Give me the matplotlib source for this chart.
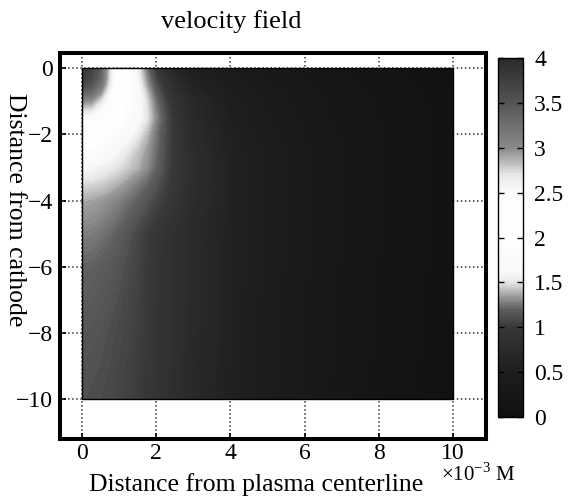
import matplotlib
matplotlib.use("Agg")
import matplotlib.pyplot as plt
import numpy as np
from matplotlib.colors import LinearSegmentedColormap, Normalize
from matplotlib.cm import ScalarMappable
from matplotlib.patches import Rectangle

plt.rcParams["font.family"] = ["Liberation Serif", "DejaVu Serif"]
plt.rcParams["mathtext.fontset"] = "custom"
plt.rcParams["mathtext.rm"] = "Liberation Serif"
plt.rcParams["axes.unicode_minus"] = True

# ── data: speed on a coarse grid (units of colorbar) ───
x_nodes = [0, 0.25, 0.5, 0.75, 1.0, 1.25, 1.5, 1.75, 2.0, 2.5, 3, 4, 5, 6, 8, 10]
y_nodes = [0, -0.25, -0.5, -0.75, -1.0, -1.5, -2, -2.5, -3, -3.5, -4, -5, -6, -8, -10]
speed = [
    [3.85, 3.70, 3.40, 2.70, 2.20, 1.85, 1.55, 1.25, 1.00, 0.65, 0.50, 0.40, 0.32, 0.25, 0.14, 0.05],
    [3.80, 3.65, 3.35, 2.70, 2.20, 1.88, 1.58, 1.30, 1.05, 0.70, 0.55, 0.42, 0.33, 0.26, 0.14, 0.05],
    [3.65, 3.50, 3.20, 2.65, 2.20, 1.90, 1.62, 1.35, 1.12, 0.78, 0.60, 0.45, 0.35, 0.28, 0.16, 0.06],
    [3.35, 3.25, 2.95, 2.50, 2.15, 1.90, 1.66, 1.42, 1.18, 0.85, 0.65, 0.48, 0.37, 0.30, 0.17, 0.07],
    [3.00, 2.95, 2.70, 2.40, 2.10, 1.88, 1.68, 1.47, 1.24, 0.90, 0.70, 0.50, 0.39, 0.31, 0.18, 0.07],
    [2.50, 2.45, 2.30, 2.15, 2.00, 1.82, 1.66, 1.50, 1.30, 0.95, 0.72, 0.52, 0.41, 0.32, 0.19, 0.08],
    [2.20, 2.15, 2.05, 1.92, 1.78, 1.65, 1.52, 1.40, 1.25, 0.97, 0.75, 0.55, 0.43, 0.34, 0.20, 0.08],
    [1.90, 1.86, 1.78, 1.68, 1.58, 1.50, 1.42, 1.34, 1.23, 0.98, 0.77, 0.57, 0.45, 0.35, 0.20, 0.08],
    [1.62, 1.60, 1.56, 1.52, 1.48, 1.43, 1.38, 1.31, 1.20, 0.98, 0.78, 0.58, 0.46, 0.36, 0.20, 0.08],
    [1.47, 1.46, 1.44, 1.41, 1.37, 1.32, 1.27, 1.21, 1.14, 0.96, 0.78, 0.58, 0.46, 0.36, 0.20, 0.08],
    [1.37, 1.36, 1.34, 1.31, 1.28, 1.24, 1.19, 1.14, 1.08, 0.94, 0.77, 0.58, 0.46, 0.36, 0.20, 0.08],
    [1.28, 1.27, 1.25, 1.22, 1.18, 1.13, 1.08, 1.02, 0.95, 0.85, 0.74, 0.58, 0.46, 0.36, 0.20, 0.08],
    [1.21, 1.20, 1.18, 1.16, 1.13, 1.10, 1.06, 1.01, 0.94, 0.84, 0.73, 0.57, 0.45, 0.35, 0.19, 0.07],
    [1.15, 1.14, 1.13, 1.11, 1.09, 1.07, 1.04, 1.00, 0.93, 0.83, 0.72, 0.56, 0.44, 0.34, 0.18, 0.06],
    [1.12, 1.11, 1.10, 1.09, 1.07, 1.05, 1.02, 0.98, 0.92, 0.82, 0.71, 0.55, 0.43, 0.33, 0.17, 0.05],
]
cbar_ticks = [0, 0.5, 1, 1.5, 2, 2.5, 3, 3.5, 4]
x_ticks = [0, 2, 4, 6, 8, 10]
y_ticks = [0, -2, -4, -6, -8, -10]

# grey map that is dark at both ends and white in the middle
cmap = LinearSegmentedColormap.from_list("vel", [
    (0.0, "#101010"), (0.125, "#1e1e1e"), (0.25, "#383838"), (0.3, "#606060"),
    (0.3375, "#a0a0a0"), (0.375, "#e8e8e8"), (0.4, "#f8f8f8"), (0.5, "#ffffff"),
    (0.625, "#fcfcfc"), (0.675, "#e8e8e8"), (0.7125, "#b8b8b8"), (0.75, "#8a8a8a"),
    (0.875, "#555555"), (1.0, "#2a2a2a"),
])
norm = Normalize(vmin=0, vmax=4)

W, H = 572, 499
fig = plt.figure(figsize=(W / 100, H / 100), dpi=100)
fig.patch.set_facecolor("white")

ax = fig.add_axes([60 / W, 1 - 439 / H, 426 / W, 386 / H])
X, Y = np.meshgrid(x_nodes, y_nodes)
ax.contourf(X, Y, np.array(speed), levels=np.linspace(0, 4, 241),
            cmap=cmap, norm=norm, zorder=1)
ax.add_patch(Rectangle((0, -10), 10, 10, fill=False, ec="black", lw=1, zorder=3))

ax.set_xlim(-0.593, 10.89)
ax.set_ylim(-11.21, 0.463)
ax.set_xticks(x_ticks)
ax.set_yticks(y_ticks)
ax.set_axisbelow(True)
ax.grid(True, linestyle=":", color="#333", linewidth=1.1)
for sp in ax.spines.values():
    sp.set_linewidth(2.9)
ax.tick_params(direction="in", length=4, width=1.2, labelsize=17)
ax.tick_params(axis="x", pad=3)
ax.tick_params(axis="y", pad=5)

fig.text(231 / W, 1 - 22 / H, "velocity field", ha="center", va="center", fontsize=19)
fig.text(256 / W, 1 - 485 / H, "Distance from plasma centerline",
         ha="center", va="center", fontsize=18.5)
fig.text(15 / W, 1 - 210 / H, "Distance from cathode", ha="center", va="center",
         rotation=-90, fontsize=18.5)
fig.text(478 / W, 1 - 475 / H, r"$\times10^{-3}$ M", ha="center", va="center",
         fontsize=15)

cax = fig.add_axes([498 / W, 1 - 417 / H, 25 / W, 359 / H])
cb = fig.colorbar(ScalarMappable(norm=norm, cmap=cmap), cax=cax, ticks=cbar_ticks)
cb.ax.set_yticklabels(["0", "0.5", "1", "1.5", "2", "2.5", "3", "3.5", "4"])
cb.outline.set_linewidth(1)
cax.tick_params(direction="in", left=True, right=True, length=4, width=1,
                labelsize=17, pad=8)

fig.savefig("out.png", dpi=100, facecolor="white")
